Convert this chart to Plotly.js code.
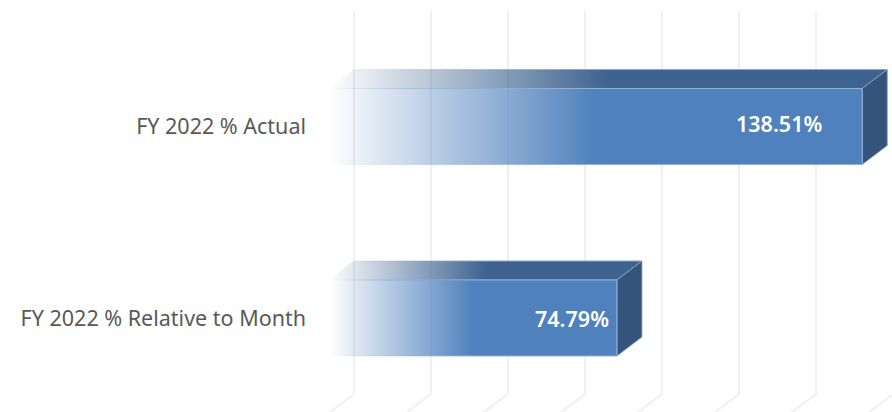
<!DOCTYPE html>
<html>
<head>
<meta charset="utf-8">
<script src="https://cdn.plot.ly/plotly-3.0.1.min.js"></script>
<style>html,body{margin:0;padding:0;background:#fff}#chart{width:892px;height:412px}</style>
</head>
<body>
<div id="chart"></div>
<script>
const categories = ['FY 2022 % Actual', 'FY 2022 % Relative to Month'];
const values = [138.51, 74.79];
const labels = ['138.51%', '74.79%'];
const gridValues = [0, 20, 40, 60, 80, 100, 120, 140];

const depthX = 6.5, depthY = 0.099, barWidth = 0.397;
const yTop = -0.6024, yFloor = 1.397, yBottom = 1.491, yRangeTop = -0.6606;

const shapes = [];
gridValues.forEach(v => {
  shapes.push({type:'path', layer:'below', xref:'x', yref:'y',
    path:`M${v+depthX},${yTop} L${v+depthX},${yFloor} L${v},${yFloor+depthY}`,
    line:{color:'#f0f0f2', width:2}, fillcolor:'rgba(0,0,0,0)'});
});
const topIdx = [];
const half = barWidth/2;
values.forEach((v,i) => {
  topIdx.push(shapes.length);
  shapes.push({type:'path', layer:'below', xref:'x', yref:'y',
    path:`M0,${i-half} L${v},${i-half} L${v+depthX},${i-half-depthY} L${depthX},${i-half-depthY} Z`,
    line:{color:'#8ea6c4', width:1}, fillcolor:'#3E6390'});
  shapes.push({type:'path', layer:'below', xref:'x', yref:'y',
    path:`M${v},${i-half} L${v+depthX},${i-half-depthY} L${v+depthX},${i+half-depthY} L${v},${i+half} Z`,
    line:{color:'#8ea3bd', width:0.8}, fillcolor:'#34547C'});
});

const data = [{
  type:'bar', orientation:'h', y:[0,1], x:values, width:barWidth,
  marker:{color:'#4F81BD', line:{width:1, color:'#92b2d9'}}, hoverinfo:'skip'
}];

const annotations = values.map((v,i) => ({
  x:v*0.844, y:i, xref:'x', yref:'y', text:labels[i], showarrow:false,
  yshift:i===0?3:-1, font:{family:'"Noto Sans", sans-serif', size:21.5, color:'#ffffff', weight:600}
}));

const layout = {
  width:892, height:412, margin:{l:329,r:0,t:0,b:0},
  paper_bgcolor:'#ffffff', plot_bgcolor:'#ffffff', showlegend:false,
  xaxis:{range:[0,563/3.85], showgrid:false, zeroline:false, showticklabels:false, ticks:''},
  yaxis:{range:[yBottom,yRangeTop], tickmode:'array', tickvals:[0,1], ticktext:categories,
    showgrid:false, zeroline:false, ticks:'', ticklabelstandoff:22,
    tickfont:{family:'"Noto Sans", sans-serif', size:21.5, color:'#595959'}},
  shapes, annotations
};

Plotly.newPlot('chart', data, layout, {displayModeBar:false, staticPlot:true}).then(gd => {
  const svg = gd.querySelector('svg.main-svg');
  const NS = 'http://www.w3.org/2000/svg';
  const defs = svg.querySelector('defs') || svg.insertBefore(document.createElementNS(NS,'defs'), svg.firstChild);
  const mk = (id,color) => {
    const g = document.createElementNS(NS,'linearGradient');
    g.id = id; g.setAttribute('x1','0'); g.setAttribute('x2','1'); g.setAttribute('y1','0'); g.setAttribute('y2','0');
    [[0,0],[0.5,1],[1,1]].forEach(([o,a]) => {
      const s = document.createElementNS(NS,'stop');
      s.setAttribute('offset',o); s.setAttribute('stop-color',color); s.setAttribute('stop-opacity',a);
      g.appendChild(s);
    });
    defs.appendChild(g);
  };
  mk('frontGrad','#4F81BD'); mk('topGrad','#3E6390'); mk('edgeGrad','#92b2d9'); mk('topEdge','#8ea6c4');
  gd.querySelectorAll('.bars .point path').forEach(p => {
    p.style.fill = 'url(#frontGrad)'; p.style.stroke = 'url(#edgeGrad)';
  });
  topIdx.forEach(i => {
    gd.querySelectorAll(`.shapelayer path[data-index="${i}"]`).forEach(p => {
      p.style.fill = 'url(#topGrad)'; p.style.stroke = 'url(#topEdge)';
    });
  });
});
</script>
</body>
</html>
